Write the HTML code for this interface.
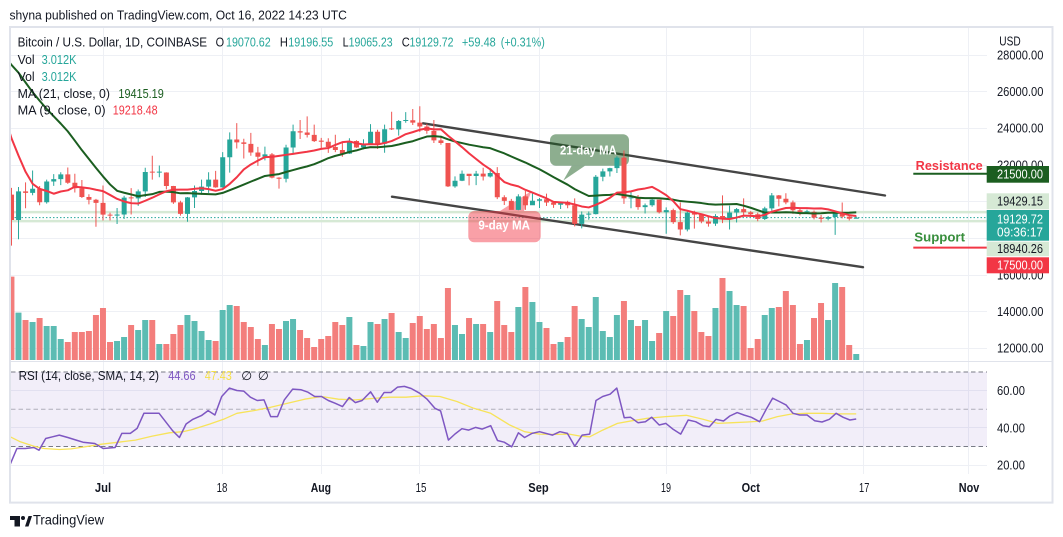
<!DOCTYPE html>
<html><head><meta charset="utf-8">
<style>
html,body{margin:0;padding:0;background:#fff;overflow:hidden;}
svg{display:block;}
text{font-family:"Liberation Sans",Arial,sans-serif;}
</style></head><body>
<svg width="1063" height="537" viewBox="0 0 1063 537" xmlns="http://www.w3.org/2000/svg">
<defs>
<clipPath id="mp"><rect x="11" y="28" width="976" height="333"/></clipPath>
<clipPath id="rp"><rect x="11" y="362" width="976" height="112"/></clipPath>
</defs>
<rect width="1063" height="537" fill="#fff"/>

<!-- grid -->
<g stroke="#eef0f5" stroke-width="1">
<line x1="11" x2="987" y1="55.5" y2="55.5"/>
<line x1="11" x2="987" y1="91.5" y2="91.5"/>
<line x1="11" x2="987" y1="128.5" y2="128.5"/>
<line x1="11" x2="987" y1="165.5" y2="165.5"/>
<line x1="11" x2="987" y1="201.5" y2="201.5"/>
<line x1="11" x2="987" y1="238.5" y2="238.5"/>
<line x1="11" x2="987" y1="275.5" y2="275.5"/>
<line x1="11" x2="987" y1="311.5" y2="311.5"/>
<line x1="11" x2="987" y1="348.5" y2="348.5"/>
<line x1="11" x2="987" y1="390.5" y2="390.5"/>
<line x1="11" x2="987" y1="427.5" y2="427.5"/>
<line x1="11" x2="987" y1="465.5" y2="465.5"/>
<line x1="103.5" x2="103.5" y1="28" y2="474"/>
<line x1="222.5" x2="222.5" y1="28" y2="474"/>
<line x1="321.5" x2="321.5" y1="28" y2="474"/>
<line x1="419.5" x2="419.5" y1="28" y2="474"/>
<line x1="539.5" x2="539.5" y1="28" y2="474"/>
<line x1="666.5" x2="666.5" y1="28" y2="474"/>
<line x1="750.5" x2="750.5" y1="28" y2="474"/>
<line x1="863.5" x2="863.5" y1="28" y2="474"/>
<line x1="968.5" x2="968.5" y1="28" y2="474"/>
</g>

<!-- RSI band & dashed -->
<rect x="11" y="372" width="976" height="74.5" fill="rgba(126,87,194,0.1)"/>
<line x1="11" x2="987" y1="372" y2="372" stroke="#787b86" stroke-width="1" stroke-dasharray="4.5,3"/>
<line x1="11" x2="987" y1="409.3" y2="409.3" stroke="rgba(120,123,134,0.55)" stroke-width="1" stroke-dasharray="4.5,3"/>
<line x1="11" x2="987" y1="446.5" y2="446.5" stroke="#787b86" stroke-width="1" stroke-dasharray="4.5,3"/>

<line x1="11" x2="1052" y1="361.5" y2="361.5" stroke="#e0e3eb" stroke-width="1"/>

<g clip-path="url(#mp)">
<!-- volume -->
<g transform="matrix(0.0704 0 0 0.333333 11.48 270)">
<path fill="#5cbcb3" d="M57 128h85V270h-85zM257 156h85V270h-85zM457 168h85V270h-85zM557 168h85V270h-85zM657 207h85V270h-85zM1457 213h85V270h-85zM1557 201h85V270h-85zM1757 180h85V270h-85zM1857 150h85V270h-85zM2057 222h85V270h-85zM2457 135h85V270h-85zM2557 153h85V270h-85zM2657 183h85V270h-85zM2757 210h85V270h-85zM2957 120h85V270h-85zM3057 105h85V270h-85zM3557 225h85V270h-85zM3857 153h85V270h-85zM3957 147h85V270h-85zM4757 141h85V270h-85zM4957 228h85V270h-85zM5057 156h85V270h-85zM5257 147h85V270h-85zM5457 186h85V270h-85zM5557 204h85V270h-85zM6257 165h85V270h-85zM6357 192h85V270h-85zM6557 162h85V270h-85zM6757 186h85V270h-85zM7157 111h85V270h-85zM7357 96h85V270h-85zM7457 156h85V270h-85zM7757 216h85V270h-85zM8057 147h85V270h-85zM8157 171h85V270h-85zM8257 81h85V270h-85zM8357 183h85V270h-85zM8457 201h85V270h-85zM8557 135h85V270h-85zM8757 150h85V270h-85zM8957 150h85V270h-85zM9057 213h85V270h-85zM9257 123h85V270h-85zM9557 75h85V270h-85zM9957 114h85V270h-85zM10157 63h85V270h-85zM10257 105h85V270h-85zM10657 135h85V270h-85zM10757 114h85V270h-85zM11257 210h85V270h-85zM11557 150h85V270h-85zM11657 39h85V270h-85zM11957 252h85V270h-85z"/>
<path fill="#f37e7c" d="M-43 20h85V270h-85zM157 150h85V270h-85zM357 144h85V270h-85zM757 216h85V270h-85zM857 186h85V270h-85zM957 186h85V270h-85zM1057 183h85V270h-85zM1157 135h85V270h-85zM1257 114h85V270h-85zM1357 216h85V270h-85zM1657 165h85V270h-85zM1957 150h85V270h-85zM2157 222h85V270h-85zM2257 192h85V270h-85zM2357 165h85V270h-85zM2857 213h85V270h-85zM3157 108h85V270h-85zM3257 156h85V270h-85zM3357 171h85V270h-85zM3457 207h85V270h-85zM3657 162h85V270h-85zM3757 177h85V270h-85zM4057 180h85V270h-85zM4157 204h85V270h-85zM4257 231h85V270h-85zM4357 207h85V270h-85zM4457 198h85V270h-85zM4557 156h85V270h-85zM4657 165h85V270h-85zM4857 225h85V270h-85zM5157 162h85V270h-85zM5357 129h85V270h-85zM5657 159h85V270h-85zM5757 138h85V270h-85zM5857 177h85V270h-85zM5957 162h85V270h-85zM6057 204h85V270h-85zM6157 54h85V270h-85zM6457 144h85V270h-85zM6657 162h85V270h-85zM6857 93h85V270h-85zM6957 165h85V270h-85zM7057 186h85V270h-85zM7257 51h85V270h-85zM7557 174h85V270h-85zM7657 222h85V270h-85zM7857 201h85V270h-85zM7957 108h85V270h-85zM8657 93h85V270h-85zM8857 168h85V270h-85zM9157 189h85V270h-85zM9357 138h85V270h-85zM9457 60h85V270h-85zM9657 123h85V270h-85zM9757 186h85V270h-85zM9857 198h85V270h-85zM10057 24h85V270h-85zM10357 108h85V270h-85zM10457 234h85V270h-85zM10557 207h85V270h-85zM10857 111h85V270h-85zM10957 63h85V270h-85zM11057 105h85V270h-85zM11157 222h85V270h-85zM11357 144h85V270h-85zM11457 99h85V270h-85zM11757 51h85V270h-85zM11857 225h85V270h-85z"/>
</g>

<line x1="11" x2="987" y1="212.1" y2="212.1" stroke="#d6e9d5" stroke-width="2.5"/>
<line x1="11" x2="987" y1="221.1" y2="221.1" stroke="#d6e9d5" stroke-width="2.5"/>
<line x1="11" x2="987" y1="217.6" y2="217.6" stroke="#26a69a" stroke-width="1" stroke-dasharray="1.5,2"/>

<!-- trend lines -->
<line x1="423" y1="123.3" x2="885" y2="195.5" stroke="#454545" stroke-width="2.4" stroke-linecap="round"/>
<line x1="392" y1="196.7" x2="863" y2="267.2" stroke="#454545" stroke-width="2.4" stroke-linecap="round"/>

<!-- callouts (under candles) -->
<g fill="rgba(27,94,32,0.5)">
<rect x="550" y="134.3" width="79" height="31.4" rx="6" ry="6"/>
<polygon points="571.7,165.7 585,165.7 563.3,180.5"/>
</g>
<text x="588.4" y="154.6" font-size="13" font-weight="bold" fill="#fff" text-anchor="middle" textLength="56.7" lengthAdjust="spacingAndGlyphs">21-day MA</text>
<g fill="rgba(242,54,69,0.47)">
<rect x="468.3" y="211" width="72.4" height="31.3" rx="6" ry="6"/>
<polygon points="500,211 524,211 531.5,191"/>
</g>
<text x="504.2" y="229.6" font-size="13" font-weight="bold" fill="#fff" text-anchor="middle" textLength="51.7" lengthAdjust="spacingAndGlyphs">9-day MA</text>

<!-- candles -->
<g transform="matrix(0.0704 0 0 -0.018333 11.48 568.3)">
<path fill="#26a69a" d="M93 17950h14v2850h-14zM65 19000h71v1560h-71zM293 20350h14v1350h-14zM265 20480h71v220h-71zM493 19890h14v1310h-14zM465 19970h71v1130h-71zM593 20860h14v640h-14zM565 21100h71v130h-71zM693 20900h14v700h-14zM665 21230h71v260h-71zM1493 18780h14v870h-14zM1465 19240h71v60h-71zM1593 19050h14v1270h-14zM1565 19300h71v920h-71zM1793 19770h14v890h-14zM1765 20180h71v380h-71zM1893 20250h14v1600h-14zM1865 20560h71v1060h-71zM2093 21330h14v640h-14zM2065 21580h71v55h-71zM2493 18900h14v1350h-14zM2465 19330h71v900h-71zM2593 19650h14v1230h-14zM2565 20230h71v350h-71zM2693 20380h14v820h-14zM2665 20580h71v240h-71zM2793 20480h14v1120h-14zM2765 20820h71v380h-71zM2993 20760h14v1940h-14zM2965 20780h71v1640h-71zM3093 21580h14v2200h-14zM3065 22420h71v970h-71zM3593 22250h14v750h-14zM3565 22450h71v130h-71zM3893 21050h14v2050h-14zM3865 21250h71v1700h-71zM3993 22600h14v1600h-14zM3965 22950h71v890h-71zM4793 22600h14v860h-14zM4765 22620h71v690h-71zM4993 22850h14v550h-14zM4965 22950h71v220h-71zM5093 23150h14v1080h-14zM5065 23170h71v640h-71zM5293 22670h14v1530h-14zM5265 23160h71v790h-71zM5493 23600h14v850h-14zM5465 23940h71v460h-71zM5593 24300h14v580h-14zM5565 24400h71v55h-71zM6293 20760h14v620h-14zM6265 20830h71v310h-71zM6393 21120h14v580h-14zM6365 21140h71v380h-71zM6593 20900h14v780h-14zM6565 21400h71v130h-71zM6793 21320h14v500h-14zM6765 21370h71v190h-71zM7193 19530h14v870h-14zM7165 19550h71v740h-71zM7393 19800h14v680h-14zM7365 19800h71v250h-71zM7493 19650h14v550h-14zM7465 20050h71v80h-71zM7793 19600h14v400h-14zM7765 19830h71v160h-71zM8093 18540h14v920h-14zM8065 18790h71v500h-71zM8193 19010h14v450h-14zM8165 19290h71v55h-71zM8293 19300h14v2150h-14zM8265 19320h71v2040h-71zM8393 21110h14v690h-14zM8365 21360h71v290h-71zM8493 21370h14v480h-14zM8465 21650h71v180h-71zM8593 21560h14v920h-14zM8565 21830h71v570h-71zM8793 19640h14v920h-14zM8765 20180h71v55h-71zM8993 19350h14v550h-14zM8965 19700h71v100h-71zM9093 19720h14v460h-14zM9065 19800h71v310h-71zM9293 18250h14v1440h-14zM9265 19420h71v120h-71zM9593 18380h14v1100h-14zM9565 18480h71v920h-71zM9993 18680h14v640h-14zM9965 18800h71v420h-71zM10193 18480h14v1300h-14zM10165 19080h71v330h-71zM10293 18860h14v790h-14zM10265 19410h71v180h-71zM10693 19000h14v720h-14zM10665 19050h71v580h-71zM10793 19500h14v970h-14zM10765 19630h71v710h-71zM11293 19330h14v230h-14zM11265 19420h71v55h-71zM11593 18980h14v240h-14zM11565 19060h71v100h-71zM11693 18190h14v1330h-14zM11665 19160h71v220h-71zM11993 19065h14v132h-14zM11965 19070h71v60h-71z"/>
<path fill="#ef5350" d="M-7 17600h14v3150h-14zM-35 19000h71v1380h-71zM193 19640h14v1410h-14zM165 20480h71v80h-71zM393 19800h14v1050h-14zM365 19970h71v730h-71zM793 20970h14v890h-14zM765 21030h71v460h-71zM893 20500h14v1020h-14zM865 20730h71v300h-71zM993 20200h14v980h-14zM965 20250h71v480h-71zM1093 19850h14v550h-14zM1065 20100h71v150h-71zM1193 18630h14v1520h-14zM1165 19930h71v170h-71zM1293 18970h14v1910h-14zM1265 19290h71v640h-71zM1393 18970h14v430h-14zM1365 19240h71v55h-71zM1693 19300h14v1440h-14zM1665 20180h71v55h-71zM1993 21200h14v1300h-14zM1965 21580h71v55h-71zM2193 20670h14v930h-14zM2165 20850h71v740h-71zM2293 19880h14v980h-14zM2265 19960h71v890h-71zM2393 19240h14v810h-14zM2365 19330h71v630h-71zM2893 20760h14v920h-14zM2865 20780h71v420h-71zM3193 22900h14v1380h-14zM3165 23230h71v160h-71zM3293 22350h14v1080h-14zM3265 23150h71v80h-71zM3393 22500h14v1250h-14zM3365 22680h71v470h-71zM3493 21950h14v1040h-14zM3465 22450h71v230h-71zM3693 21270h14v1380h-14zM3665 21310h71v1270h-71zM3793 20710h14v620h-14zM3765 21250h71v60h-71zM4093 23420h14v1030h-14zM4065 23770h71v70h-71zM4193 23500h14v1150h-14zM4165 23640h71v130h-71zM4293 23250h14v950h-14zM4265 23300h71v340h-71zM4393 22850h14v630h-14zM4365 23270h71v55h-71zM4493 22660h14v800h-14zM4465 22980h71v290h-71zM4593 22700h14v950h-14zM4565 22820h71v160h-71zM4693 22450h14v780h-14zM4665 22620h71v200h-71zM4893 22930h14v420h-14zM4865 22950h71v360h-71zM5193 22880h14v1040h-14zM5165 23160h71v650h-71zM5393 23910h14v990h-14zM5365 23940h71v55h-71zM5693 24180h14v870h-14zM5665 24310h71v130h-71zM5793 23800h14v1400h-14zM5765 24100h71v210h-71zM5893 23700h14v540h-14zM5865 23860h71v240h-71zM5993 23200h14v1250h-14zM5965 23340h71v520h-71zM6093 23100h14v500h-14zM6065 23200h71v140h-71zM6193 20800h14v2400h-14zM6165 20830h71v2370h-71zM6493 20890h14v630h-14zM6465 21400h71v120h-71zM6693 21150h14v700h-14zM6665 21370h71v160h-71zM6893 20140h14v1740h-14zM6865 20240h71v1320h-71zM6993 19820h14v530h-14zM6965 20040h71v200h-71zM7093 19550h14v600h-14zM7065 19550h71v490h-71zM7293 19550h14v1030h-14zM7265 19800h71v490h-71zM7593 19760h14v680h-14zM7565 19950h71v180h-71zM7693 19660h14v300h-14zM7665 19830h71v120h-71zM7893 19640h14v410h-14zM7865 19800h71v190h-71zM7993 18650h14v1530h-14zM7965 18790h71v1010h-71zM8693 19880h14v2910h-14zM8665 20180h71v2220h-71zM8893 19560h14v800h-14zM8865 19700h71v530h-71zM9193 19350h14v760h-14zM9165 19420h71v690h-71zM9393 18790h14v830h-14zM9365 18880h71v660h-71zM9493 18160h14v1800h-14zM9465 18480h71v400h-71zM9693 18530h14v970h-14zM9665 19290h71v110h-71zM9793 18820h14v500h-14zM9765 18920h71v370h-71zM9893 18640h14v540h-14zM9865 18800h71v120h-71zM10093 18830h14v1510h-14zM10065 19080h71v140h-71zM10393 19180h14v1000h-14zM10365 19420h71v170h-71zM10493 19170h14v310h-14zM10465 19310h71v110h-71zM10593 18930h14v470h-14zM10565 19050h71v260h-71zM10893 19740h14v620h-14zM10865 20160h71v180h-71zM10993 19860h14v600h-14zM10965 19960h71v200h-71zM11093 19330h14v730h-14zM11065 19530h71v430h-71zM11193 19250h14v370h-14zM11165 19420h71v110h-71zM11393 19030h14v490h-14zM11365 19130h71v310h-71zM11493 18860h14v410h-14zM11465 19060h71v70h-71zM11793 19090h14v860h-14zM11765 19180h71v200h-71zM11893 18970h14v260h-14zM11865 19070h71v110h-71z"/>
</g>

<!-- MA21 -->
<g transform="matrix(7.04 0 0 -0.00873 -136.36 568.3)">
<polyline fill="none" stroke="#1b5e20" stroke-width="2" vector-effect="non-scaling-stroke" stroke-linejoin="round" points="20,58704 21,57659 22,56771 23,55647 24,54538 25,53555 26,52620 27,51773 28,50936 29,50048 30,48984 31,47896 32,46886 33,45868 34,44889 35,43971 36,43243 37,43017 38,42822 39,42620 40,42743 41,42856 42,43115 43,43144 44,43092 45,42955 46,42981 47,42929 48,42888 49,42859 50,42834 51,43003 52,43317 53,43630 54,43952 55,44291 56,44612 57,44940 58,45049 59,45156 60,45395 61,45617 62,45836 63,46041 64,46286 65,46617 66,46982 67,47241 68,47445 69,47694 70,47869 71,48108 72,48247 73,48224 74,48296 75,48375 76,48547 77,48746 78,48919 79,49198 80,49459 81,49498 82,49434 83,49140 84,48890 85,48712 86,48525 87,48380 88,48235 89,48129 90,47822 91,47531 92,47169 93,46817 94,46481 95,46091 96,45710 97,45265 98,44804 99,44372 100,43942 101,43435 102,43030 103,42642 104,42695 105,42746 106,42777 107,42877 108,42742 109,42628 110,42442 111,42398 112,42405 113,42392 114,42317 115,42225 116,42068 117,41995 118,41929 119,41838 120,41719 121,41661 122,41690 123,41702 124,41729 125,41535 126,41301 127,41023 128,40746 129,40762 130,40755 131,40781 132,40754 133,40685 134,40687 135,40646 136,40664 137,40732 138,40730 139,40719 140,40734 141,40767"/>
</g>
<!-- MA9 -->
<g transform="matrix(7.04 0 0 -0.02037 -136.36 568.3)">
<polyline fill="none" stroke="#f23645" stroke-width="2" vector-effect="non-scaling-stroke" stroke-linejoin="round" points="20,22222 21,21111 22,20259 23,19465 24,18877 25,18626 26,18523 27,18388 28,18498 29,18556 30,18729 31,18698 32,18660 33,18583 34,18515 35,18329 36,18136 37,18009 38,17924 39,17907 40,18044 41,18192 42,18358 43,18514 44,18586 45,18589 46,18590 47,18630 48,18656 49,18614 50,18534 51,18617 52,18871 53,19198 54,19580 55,19825 56,20012 57,20188 58,20199 59,20246 60,20299 61,20344 62,20398 63,20447 64,20509 65,20591 66,20631 67,20782 68,20919 69,20955 70,20866 71,20806 72,20823 73,20809 74,20877 75,20973 76,21131 77,21313 78,21413 79,21528 80,21597 81,21550 82,21554 83,21242 84,20962 85,20674 86,20370 87,20092 88,19819 89,19589 90,19279 91,18963 92,18835 93,18750 94,18578 95,18443 96,18303 97,18161 98,17988 99,17963 100,17939 101,17863 102,17763 103,17715 104,17846 105,17998 106,18186 107,18443 108,18462 109,18505 110,18596 111,18647 112,18726 113,18532 114,18321 115,18026 116,17634 117,17556 118,17462 119,17384 120,17284 121,17195 122,17161 123,17148 124,17219 125,17313 126,17304 127,17280 128,17351 129,17505 130,17599 131,17687 132,17699 133,17682 134,17684 135,17666 136,17667 137,17620 138,17524 139,17426 140,17337 141,17297"/>
</g>
</g>

<!-- RSI lines -->
<g clip-path="url(#rp)">
<polyline fill="none" stroke="#f7e35a" stroke-width="1.3" stroke-linejoin="round" points="10.2,436.8 20.3,441.8 33.9,446.2 44.0,448.5 59.3,449.5 71.1,448.9 84.6,446.9 101.6,444.2 118.5,442.2 135.4,440.1 152.3,436.1 169.3,432.8 182.8,431.7 193.0,429.4 209.9,424.0 223.5,419.3 236.9,413.3 253.8,410.6 270.7,407.3 287.6,403.2 304.6,399.2 321.5,396.5 338.4,399.2 355.3,399.9 372.3,398.5 389.2,397.2 406.1,397.2 423.0,395.8 439.9,396.5 456.9,401.5 473.8,408.3 490.7,413.3 509.7,425.0 524.6,431.7 539.5,434.1 554.3,434.4 569.2,434.1 580.4,436.1 589.7,436.8 602.7,430.1 617.5,423.4 632.4,420.7 647.3,418.3 665.9,416.6 686.3,415.3 703.0,419.3 717.9,423.4 732.8,422.7 747.7,422.0 762.5,421.0 777.4,416.6 792.3,413.9 807.1,413.3 822.0,413.3 836.9,413.9 856.2,413.9"/>
<polyline fill="none" stroke="#7e57c2" stroke-width="1.5" stroke-linejoin="round" points="10.2,464.3 16.9,448.5 25.4,448.5 33.9,447.5 39.0,450.2 45.7,438.5 52.5,436.8 59.3,435.1 67.8,437.5 76.2,440.1 83.0,442.2 94.8,443.5 103.2,448.5 115.1,447.5 121.8,433.4 130.3,433.4 137.1,428.4 143.9,413.3 159.1,413.3 172.6,430.7 179.4,437.5 186.1,424.0 192.9,419.3 201.4,415.6 208.1,410.6 214.9,415.0 221.7,396.5 229.4,388.1 236.9,390.5 243.7,391.1 250.4,397.2 257.2,400.5 264.0,399.9 270.7,416.6 277.5,416.6 284.3,399.9 292.7,389.1 301.2,389.8 308.0,392.2 314.7,396.5 321.5,396.5 328.3,400.5 335.0,403.2 342.5,406.6 349.2,397.5 355.3,402.6 362.1,400.5 370.6,391.8 377.3,402.2 384.1,392.5 390.9,392.5 397.6,387.1 404.4,386.4 411.2,388.5 419.6,393.2 427.1,399.2 434.9,408.3 440.6,410.9 448.4,440.1 455.0,434.0 461.9,428.7 468.7,430.1 475.5,427.4 482.2,429.1 490.7,425.7 497.5,440.5 504.2,442.2 511.7,446.8 518.4,432.8 524.6,437.5 532.0,433.4 539.5,431.7 552.5,435.1 559.9,431.7 567.4,433.4 574.8,446.2 582.2,435.1 589.7,434.1 596.0,400.5 602.7,396.5 610.1,394.2 616.8,388.1 624.2,417.7 630.6,417.3 638.0,422.7 645.4,421.7 651.7,417.3 659.2,425.0 665.9,423.4 673.3,429.4 680.7,434.1 688.2,420.0 695.6,421.7 703.0,425.7 709.4,426.7 716.1,419.3 723.5,421.0 729.8,416.0 737.2,412.6 743.9,415.0 751.4,417.3 759.6,421.7 766.2,409.3 772.6,398.2 779.3,401.5 786.0,404.9 793.0,413.3 799.7,415.0 807.1,415.0 814.6,420.7 822.0,422.0 829.4,419.3 836.1,413.3 843.2,417.3 849.9,420.0 856.2,419.0"/>
</g>

<!-- resistance / support -->
<text x="915.7" y="170" font-size="12.5" font-weight="bold" fill="#f23645" textLength="67" lengthAdjust="spacingAndGlyphs">Resistance</text>
<line x1="913.3" x2="987" y1="173.8" y2="173.8" stroke="#1b5e20" stroke-width="2"/>
<text x="914.3" y="241.7" font-size="12.5" font-weight="bold" fill="#388e3c" textLength="50.7" lengthAdjust="spacingAndGlyphs">Support</text>
<line x1="913.3" x2="987" y1="247.6" y2="247.6" stroke="#f23645" stroke-width="2"/>

<!-- price axis -->
<g font-size="12.5" fill="#131722">
<text x="999.3" y="45.4" textLength="21.4" lengthAdjust="spacingAndGlyphs">USD</text>
<text x="997" y="59.4" textLength="46.4" lengthAdjust="spacingAndGlyphs">28000.00</text>
<text x="997" y="96.1" textLength="46.4" lengthAdjust="spacingAndGlyphs">26000.00</text>
<text x="997" y="132.7" textLength="46.4" lengthAdjust="spacingAndGlyphs">24000.00</text>
<text x="997" y="169.4" textLength="46.4" lengthAdjust="spacingAndGlyphs">22000.00</text>
<text x="997" y="279.4" textLength="46.4" lengthAdjust="spacingAndGlyphs">16000.00</text>
<text x="997" y="316.1" textLength="46.4" lengthAdjust="spacingAndGlyphs">14000.00</text>
<text x="997" y="352.7" textLength="46.4" lengthAdjust="spacingAndGlyphs">12000.00</text>
<text x="997" y="395" textLength="27.9" lengthAdjust="spacingAndGlyphs">60.00</text>
<text x="997" y="432.3" textLength="27.9" lengthAdjust="spacingAndGlyphs">40.00</text>
<text x="997" y="469.5" textLength="27.9" lengthAdjust="spacingAndGlyphs">20.00</text>
</g>
<rect x="986.7" y="166" width="62.3" height="16.7" fill="#1b5e20"/>
<rect x="986.7" y="193.3" width="62.3" height="16" fill="#d6e9d5"/>
<rect x="986.7" y="210" width="62.3" height="30.7" fill="#26a69a"/>
<rect x="986.7" y="241.7" width="62.3" height="14.5" fill="#d6e9d5"/>
<rect x="986.7" y="257.3" width="62.3" height="16" fill="#f23645"/>
<g font-size="12.5">
<text x="997" y="178.7" fill="#fff" textLength="46" lengthAdjust="spacingAndGlyphs">21500.00</text>
<text x="997" y="205.7" fill="#131722" textLength="46" lengthAdjust="spacingAndGlyphs">19429.15</text>
<text x="997" y="223.4" fill="#fff" textLength="46" lengthAdjust="spacingAndGlyphs">19129.72</text>
<text x="997" y="236.7" fill="#fff" textLength="46" lengthAdjust="spacingAndGlyphs">09:36:17</text>
<text x="997" y="253.2" fill="#131722" textLength="46" lengthAdjust="spacingAndGlyphs">18940.26</text>
<text x="997" y="269.7" fill="#fff" textLength="46" lengthAdjust="spacingAndGlyphs">17500.00</text>
</g>

<!-- time axis -->
<g font-size="12.5" fill="#131722" text-anchor="middle">
<text x="103" y="492.1" font-weight="bold" textLength="16.2" lengthAdjust="spacingAndGlyphs">Jul</text>
<text x="222" y="492.1" textLength="10.8" lengthAdjust="spacingAndGlyphs">18</text>
<text x="320.9" y="492.1" font-weight="bold" textLength="20.3" lengthAdjust="spacingAndGlyphs">Aug</text>
<text x="421" y="492.1" textLength="10.8" lengthAdjust="spacingAndGlyphs">15</text>
<text x="538.5" y="492.1" font-weight="bold" textLength="20.4" lengthAdjust="spacingAndGlyphs">Sep</text>
<text x="666" y="492.1" textLength="10" lengthAdjust="spacingAndGlyphs">19</text>
<text x="750.8" y="492.1" font-weight="bold" textLength="18.3" lengthAdjust="spacingAndGlyphs">Oct</text>
<text x="864.2" y="492.1" textLength="10.3" lengthAdjust="spacingAndGlyphs">17</text>
<text x="969" y="492.1" font-weight="bold" textLength="20.5" lengthAdjust="spacingAndGlyphs">Nov</text>
</g>

<!-- legends -->
<text x="9.5" y="19.6" font-size="13" fill="#131722" textLength="337.4" lengthAdjust="spacingAndGlyphs">shyna published on TradingView.com, Oct 16, 2022 14:23 UTC</text>
<g font-size="12.5" fill="#131722">
<text x="17.6" y="46.4" textLength="189.5" lengthAdjust="spacingAndGlyphs">Bitcoin / U.S. Dollar, 1D, COINBASE</text>
<text x="215.6" y="46.4" textLength="8.5" lengthAdjust="spacingAndGlyphs">O</text>
<text x="226" y="46.4" fill="#26a69a" textLength="44.7" lengthAdjust="spacingAndGlyphs">19070.62</text>
<text x="279.9" y="46.4" textLength="8" lengthAdjust="spacingAndGlyphs">H</text>
<text x="288.3" y="46.4" fill="#26a69a" textLength="45" lengthAdjust="spacingAndGlyphs">19196.55</text>
<text x="342.6" y="46.4" textLength="6" lengthAdjust="spacingAndGlyphs">L</text>
<text x="348.6" y="46.4" fill="#26a69a" textLength="44" lengthAdjust="spacingAndGlyphs">19065.23</text>
<text x="401.7" y="46.4" textLength="8" lengthAdjust="spacingAndGlyphs">C</text>
<text x="409.5" y="46.4" fill="#26a69a" textLength="44" lengthAdjust="spacingAndGlyphs">19129.72</text>
<text x="461.9" y="46.4" fill="#26a69a" textLength="33.9" lengthAdjust="spacingAndGlyphs">+59.48</text>
<text x="500.8" y="46.4" fill="#26a69a" textLength="44" lengthAdjust="spacingAndGlyphs">(+0.31%)</text>
<text x="17.6" y="63.9" textLength="17" lengthAdjust="spacingAndGlyphs">Vol</text>
<text x="41.6" y="63.9" fill="#26a69a" textLength="34.9" lengthAdjust="spacingAndGlyphs">3.012K</text>
<text x="17.6" y="80.9" textLength="17" lengthAdjust="spacingAndGlyphs">Vol</text>
<text x="41.6" y="80.9" fill="#26a69a" textLength="34.9" lengthAdjust="spacingAndGlyphs">3.012K</text>
<text x="17.6" y="97.9" textLength="92.4" lengthAdjust="spacingAndGlyphs">MA (21, close, 0)</text>
<text x="118.4" y="97.9" fill="#1b5e20" textLength="45.4" lengthAdjust="spacingAndGlyphs">19415.19</text>
<text x="17.6" y="114.4" textLength="88" lengthAdjust="spacingAndGlyphs">MA (9, close, 0)</text>
<text x="112.7" y="114.4" fill="#f23645" textLength="45" lengthAdjust="spacingAndGlyphs">19218.48</text>
<text x="18.6" y="379.8" textLength="140.4" lengthAdjust="spacingAndGlyphs">RSI (14, close, SMA, 14, 2)</text>
<text x="168.2" y="379.8" fill="#7e57c2" textLength="27.4" lengthAdjust="spacingAndGlyphs">44.66</text>
<text x="204.7" y="379.8" fill="#f5e04a" textLength="27.1" lengthAdjust="spacingAndGlyphs">47.43</text>
<text x="241.3" y="379.8" style='font-family:"DejaVu Sans","Liberation Sans",sans-serif'>∅</text>
<text x="257.9" y="379.8" style='font-family:"DejaVu Sans","Liberation Sans",sans-serif'>∅</text>
</g>

<!-- frame -->
<rect x="10" y="27" width="1042.5" height="475.6" fill="none" stroke="#e0e3eb" stroke-width="2"/>

<!-- logo -->
<g fill="#131722">
<rect x="10" y="516" width="10" height="4"/>
<rect x="14.5" y="516" width="5.5" height="10.5"/>
<circle cx="23" cy="518" r="2"/>
<polygon points="25,526.5 28.5,516 32,516 28.5,526.5"/>
</g>
<text x="33" y="524.6" font-size="13.5" fill="#131722" textLength="71" lengthAdjust="spacingAndGlyphs">TradingView</text>
</svg>
</body></html>
